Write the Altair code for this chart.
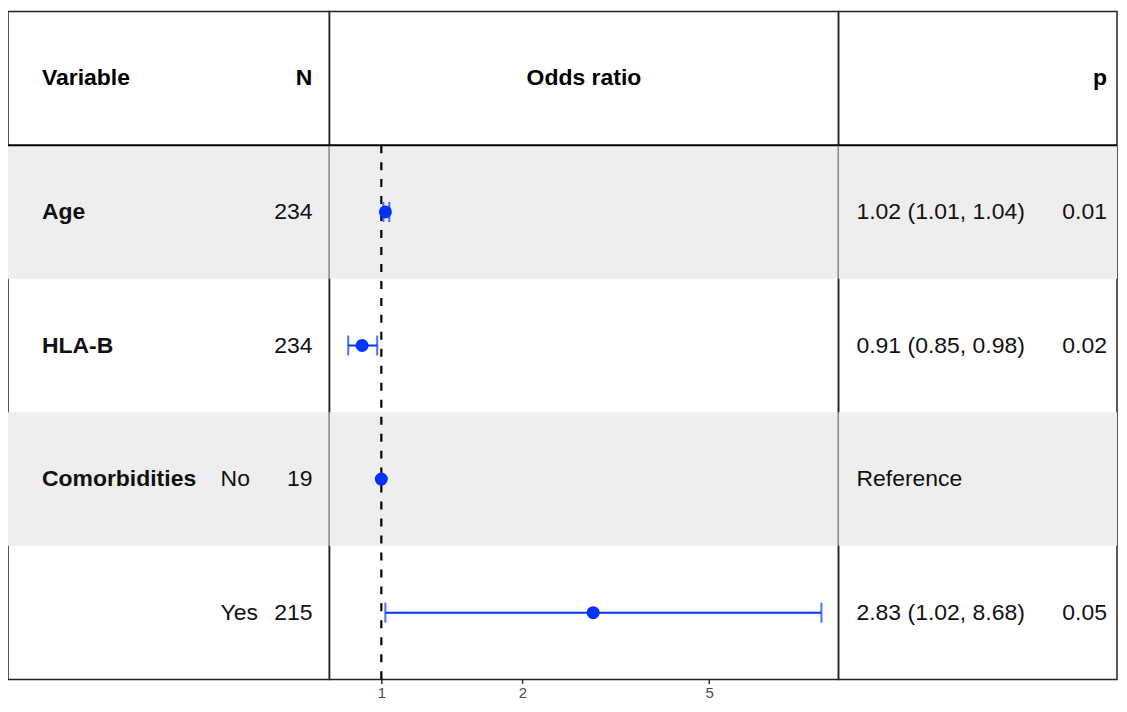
import altair as alt
import pandas as pd

# ---- data ----
rows = [1, 2, 3, 4]
variables = ["Age", "HLA-B", "Comorbidities", ""]
levels = ["", "", "No", "Yes"]
n_obs = [234, 234, 19, 215]
odds = [1.02, 0.91, 1.00, 2.83]
ci_low = [1.01, 0.85, None, 1.02]
ci_high = [1.04, 0.98, None, 8.68]
est_text = ["1.02 (1.01, 1.04)", "0.91 (0.85, 0.98)", "Reference", "2.83 (1.02, 8.68)"]
p_text = ["0.01", "0.02", "", "0.05"]
header_labels = ["Variable", "N", "Odds ratio", "p"]
axis_ticks = [1, 2, 5]

FONT = "Liberation Sans"
BLUE = "#0033FF"
GRAY = "#EEEEEE"
FS = 23

df = pd.DataFrame(dict(row=rows, variable=variables, level=levels, n=n_obs,
                       odds=odds, lo=ci_low, hi=ci_high, est=est_text, p=p_text))

yscale = alt.Scale(domain=[0, 5], reverse=True, nice=False, zero=False)


def yq(field):
    return alt.Y(field, type="quantitative", scale=yscale, axis=None)


base = alt.Chart(df).transform_calculate(
    yc="datum.row + 0.5", ytop="datum.row", ybot="datum.row + 1"
)


def bands(w):
    return base.transform_filter("datum.row % 2 == 1").mark_rect(color=GRAY).encode(
        x=alt.value(0), x2=alt.value(w), y=yq("ytop:Q"), y2="ybot:Q"
    )


def separator(w):
    return alt.Chart(pd.DataFrame({"y": [1]})).mark_rule(color="black", strokeWidth=2).encode(
        x=alt.value(0), x2=alt.value(w), y=yq("y:Q")
    )


def header(label, xpos, align):
    return alt.Chart(pd.DataFrame({"label": [label], "y": [0.5]})).mark_text(
        align=align, baseline="middle", fontWeight="bold", fontSize=FS, font=FONT, color="black"
    ).encode(x=alt.value(xpos), y=yq("y:Q"), text="label:N")


def col_text(field, xpos, align, bold=False):
    return base.mark_text(
        align=align, baseline="middle", fontSize=FS, font=FONT, color="#111111",
        fontWeight="bold" if bold else "normal"
    ).encode(x=alt.value(xpos), y=yq("yc:Q"), text=f"{field}:N")


H = 669
WL, WM, WR = 322, 510, 279

left = alt.layer(
    bands(WL), separator(WL),
    header(header_labels[0], 34, "left"), header(header_labels[1], 305, "right"),
    col_text("variable", 34, "left", bold=True),
    col_text("level", 213, "left"),
    col_text("n", 305, "right"),
).properties(width=WL, height=H)

xs = alt.Scale(type="log", domain=[0.775, 9.44], nice=False)
xaxis = alt.Axis(values=axis_ticks, format="~g", title=None, grid=False, domain=False,
                 tickSize=4, tickWidth=1.5, tickColor="#333333", labelColor="#4D4D4D",
                 labelFontSize=15, labelFont=FONT, labelPadding=2)


def X(field):
    return alt.X(field, type="quantitative", scale=xs, axis=xaxis)


ci = base.transform_filter("isValid(datum.lo)")
mid = alt.layer(
    bands(WM), separator(WM),
    header(header_labels[2], WM / 2, "center"),
    alt.Chart(pd.DataFrame({"v": [1], "y1": [1], "y2": [5]})).mark_rule(
        color="black", strokeWidth=2.2, strokeDash=[8, 9]
    ).encode(x=X("v:Q"), y=yq("y1:Q"), y2="y2:Q"),
    ci.mark_rule(color=BLUE, strokeWidth=2).encode(x=X("lo:Q"), x2="hi:Q", y=yq("yc:Q")),
    ci.mark_tick(orient="vertical", size=20, thickness=2, color=BLUE).encode(x=X("lo:Q"), y=yq("yc:Q")),
    ci.mark_tick(orient="vertical", size=20, thickness=2, color=BLUE).encode(x=X("hi:Q"), y=yq("yc:Q")),
    base.mark_circle(size=170, color=BLUE, opacity=1).encode(x=X("odds:Q"), y=yq("yc:Q")),
).properties(width=WM, height=H)

right = alt.layer(
    bands(WR), separator(WR),
    header(header_labels[3], 269, "right"),
    col_text("est", 18, "left"),
    col_text("p", 269, "right"),
).properties(width=WR, height=H)

chart = alt.hconcat(left, mid, right, spacing=0, bounds="flush").properties(
    padding={"left": -2, "top": 2, "right": 0, "bottom": 0}
).configure_view(stroke="#222222", strokeWidth=1.5).configure_concat(spacing=0)

chart.save("out.html", embed_options={"renderer": "svg", "actions": False})
